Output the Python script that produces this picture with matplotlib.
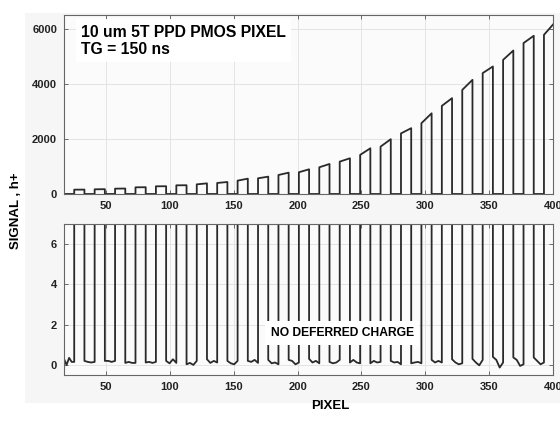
import numpy as np
import matplotlib
matplotlib.use("Agg")
import matplotlib.pyplot as plt
from matplotlib.patches import Rectangle

plt.rcParams["font.family"] = ["Liberation Sans", "DejaVu Sans"]
plt.rcParams["font.weight"] = "bold"

# readout of one row: every 16 pixels an 8-pixel dark segment then an 8-pixel lit one
first_pixel = 17
period = 16
half = 8

# signal at the start / end of each lit segment (h+)
pulse_start = [157, 170, 194, 242, 279, 315, 350, 400, 485, 570, 690, 790,
               970, 1175, 1420, 1720, 2200, 2570, 3200, 3780, 4390, 4870, 5480, 5780]
pulse_end = [160, 175, 198, 246, 282, 318, 386, 436, 557, 630, 775, 897,
             1090, 1297, 1660, 1990, 2390, 2930, 3480, 4145, 4630, 5210, 5745, 6200]

# samples of the dark segments in front of each pulse (h+)
dark_samples = [
    [0.30, 0.00, 0.35, 0.15, 0.15],
    [0.20, 0.15, 0.12, 0.15],
    [0.20, 0.20, 0.15, 0.20],
    [0.10, 0.15, 0.10, 0.10],
    [0.12, 0.15, 0.10, 0.15],
    [0.20, 0.08, 0.28, 0.10],
    [0.03, 0.10, 0.00, 0.20],
    [0.28, 0.10, 0.20, 0.12],
    [0.20, 0.08, 0.03, 0.20],
    [0.20, 0.15, 0.25, 0.10],
    [0.25, 0.08, 0.12, 0.03],
    [0.25, 0.20, 0.03, 0.12],
    [0.30, 0.12, 0.20, 0.08],
    [0.15, 0.08, 0.12, 0.25],
    [0.12, 0.25, 0.12, 0.08],
    [0.08, 0.20, 0.12, 0.15],
    [0.20, 0.12, 0.15, 0.03],
    [0.08, 0.12, 0.15, 0.08],
    [0.25, 0.12, 0.20, 0.12],
    [0.28, 0.12, 0.03, 0.08],
    [0.30, 0.12, -0.02, 0.25],
    [0.40, 0.25, -0.13, 0.12],
    [0.37, 0.25, -0.05, 0.03],
    [0.37, 0.20, 0.03, 0.12],
]

x_ticks = [50, 100, 150, 200, 250, 300, 350, 400]
top_yticks = [0, 2000, 4000, 6000]
bottom_yticks = [0, 2, 4, 6]

# stitch dark samples and pulses into one trace
xs, ys = [], []
for k, (lo, s, e) in enumerate(zip(dark_samples, pulse_start, pulse_end)):
    x0 = first_pixel + k * period
    xs.extend(np.linspace(x0, x0 + half, len(lo)))
    ys.extend(lo)
    xs.extend([x0 + half, x0 + period])
    ys.extend([s, e])
xs.append(first_pixel + len(pulse_start) * period)
ys.append(0.1)

fig = plt.figure(figsize=(5.6, 4.21), dpi=100)
fig.patches.append(Rectangle((0.045, 0.043), 0.955, 0.926, transform=fig.transFigure,
                             facecolor="#f6f6f6", edgecolor="none", zorder=-1))

ax1 = fig.add_axes([0.1143, 0.5392, 0.873, 0.4252])
ax2 = fig.add_axes([0.1143, 0.1093, 0.873, 0.3587])

for ax, yt, ylim in [(ax1, top_yticks, (0, 6500)), (ax2, bottom_yticks, (-0.5, 7))]:
    ax.set_facecolor("#fbfbfb")
    ax.plot(xs, ys, color="#2a2a2a", lw=1.3)
    ax.set_xlim(17, 400)
    ax.set_ylim(*ylim)
    ax.set_xticks(x_ticks)
    ax.set_yticks(yt)
    ax.grid(True, color="#e4e4e4", lw=0.7)
    ax.set_axisbelow(True)
    ax.tick_params(direction="in", length=3, width=0.6, color="#555555",
                   top=True, right=True, labelsize=8, pad=5)
    for lab in ax.get_xticklabels() + ax.get_yticklabels():
        lab.set_fontweight("bold")
        lab.set_color("#222222")
    for sp in ax.spines.values():
        sp.set_color("#666666")
        sp.set_linewidth(0.8)

ax1.text(0.035, 0.945, "10 um 5T PPD PMOS PIXEL\nTG = 150 ns", transform=ax1.transAxes,
         fontsize=11.3, fontweight="bold", va="top", ha="left", linespacing=1.15,
         bbox=dict(facecolor="white", edgecolor="none", pad=4))
ax2.text(0.569, 0.278, "NO DEFERRED CHARGE", transform=ax2.transAxes,
         fontsize=8.7, fontweight="bold", va="center", ha="center",
         bbox=dict(facecolor="white", edgecolor="none", pad=4))

fig.text(0.028, 0.5, "SIGNAL , h+", rotation=90, fontsize=9.5, fontweight="bold",
         ha="center", va="center")
fig.text(0.59, 0.035, "PIXEL", fontsize=9.5, fontweight="bold", ha="center", va="center")

fig.savefig("out.png", dpi=100)
